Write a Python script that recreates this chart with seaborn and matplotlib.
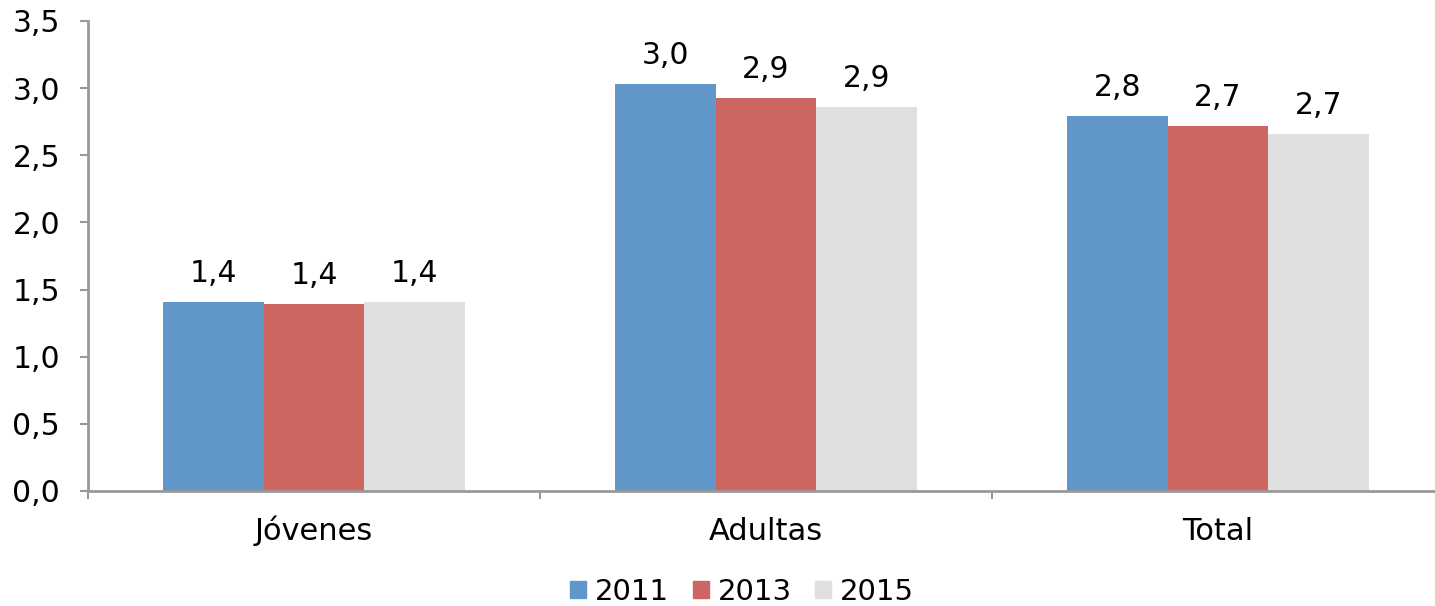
import matplotlib
matplotlib.use("Agg")
import matplotlib.pyplot as plt
import matplotlib.transforms as mtransforms
import seaborn as sns
import pandas as pd

categories = ["Jóvenes", "Adultas", "Total"]
years = ["2011", "2013", "2015"]
values_2011 = [1.41, 3.03, 2.79]
values_2013 = [1.39, 2.93, 2.72]
values_2015 = [1.41, 2.86, 2.66]
colors = ["#6096C8", "#CD6660", "#DFDFDF"]

rows = []
for yr, vals in zip(years, [values_2011, values_2013, values_2015]):
    for c, v in zip(categories, vals):
        rows.append({"cat": c, "year": yr, "val": v})
df = pd.DataFrame(rows)

sns.set_theme(style="white")
plt.rcParams["font.family"] = ["DejaVu Sans"]
plt.rcParams["text.color"] = "black"
plt.rcParams["xtick.color"] = "black"
plt.rcParams["ytick.color"] = "black"

FS = 21.5

fig = plt.figure(figsize=(14.35, 6.06), dpi=100)
ax = fig.add_axes([88/1435, 1-491/606, (1444-88)/1435, (491-21)/606])

sns.barplot(data=df, x="cat", y="val", hue="year", order=categories,
            hue_order=years, palette=colors, width=0.666, linewidth=0,
            errorbar=None, ax=ax, saturation=1)

ax.set_xlim(-0.5, 2.5)
ax.set_ylim(0, 3.5)
yt = [0, 0.5, 1.0, 1.5, 2.0, 2.5, 3.0, 3.5]
ax.set_yticks(yt)
ax.set_yticklabels([f"{t:.1f}".replace(".", ",") for t in yt], fontsize=FS, color="black")
ax.set_xticks([0, 1, 2])
ax.set_xticklabels([])
ax.set_xticks([-0.5, 0.5, 1.5], minor=True)
ax.tick_params(axis="x", which="major", length=0, bottom=False)
ax.tick_params(axis="x", which="minor", bottom=True, length=5.5, width=1.5,
               color="#999999", direction="out")
ax.tick_params(axis="y", which="major", length=6, width=1.5, color="#999999",
               labelcolor="black", direction="out", pad=14, left=True)
ax.set_xlabel("")
ax.set_ylabel("")
for s in ["top", "right"]:
    ax.spines[s].set_visible(False)
for s in ["left", "bottom"]:
    ax.spines[s].set_color("#999999")
    ax.spines[s].set_linewidth(2)

# category labels at common baseline
trans = mtransforms.blended_transform_factory(ax.transData, fig.transFigure)
for i, c in enumerate(categories):
    ax.text(i, 1 - 540/606, c, transform=trans, ha="center", va="baseline",
            fontsize=22, color="black")

for cont in ax.containers:
    labels = [f"{v:.1f}".replace(".", ",") for v in cont.datavalues]
    ax.bar_label(cont, labels=labels, padding=10, fontsize=FS, color="black")

ax.legend_.remove()
handles = [plt.Rectangle((0, 0), 1, 1, color=c) for c in colors]
fig.legend(handles, years, loc="center", bbox_to_anchor=(742/1435, 1-592/606), ncol=3,
           frameon=False, fontsize=21, handlelength=0.55, handleheight=0.55,
           handletextpad=0.3, columnspacing=0.8, labelcolor="black")

fig.savefig("out.png", dpi=100)
